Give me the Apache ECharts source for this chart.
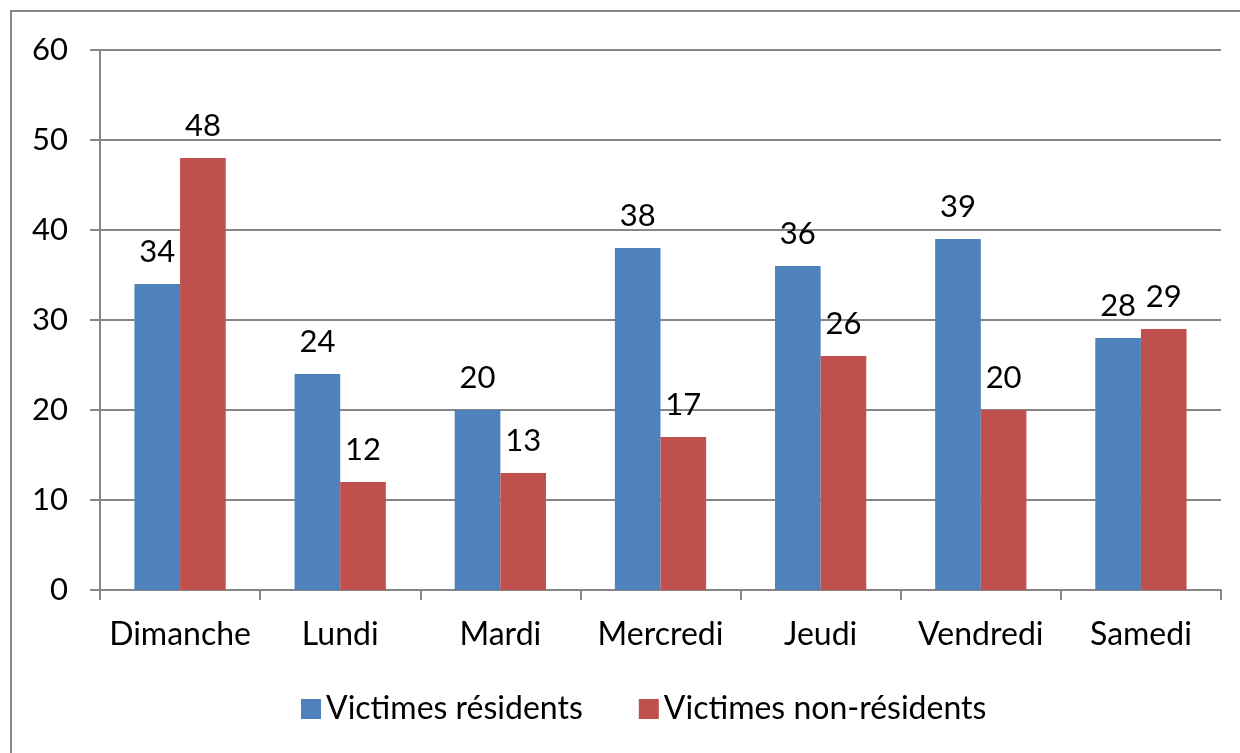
<!DOCTYPE html>
<html>
<head>
<meta charset="utf-8">
<script src="https://cdn.jsdelivr.net/npm/echarts@6/dist/echarts.min.js"></script>
<style>
  html, body { margin: 0; padding: 0; background: #fff; }
  #chart { width: 1240px; height: 753px; }
</style>
</head>
<body>
<div id="chart"></div>
<script>
// jours de la semaine
const jours = ["Dimanche", "Lundi", "Mardi", "Mercredi", "Jeudi", "Vendredi", "Samedi"];
// victimes par jour
const residents = [34, 24, 20, 38, 36, 39, 28];
const nonResidents = [48, 12, 13, 17, 26, 20, 29];
const nomsSeries = ["Victimes résidents", "Victimes non-résidents"];

const police = "Lato, 'Open Sans', sans-serif";
const gris = "#868686";

const chart = echarts.init(document.getElementById("chart"));

const etiquette = {
  show: true,
  position: "top",
  distance: 17,
  color: "#000",
  fontSize: 31,
  fontFamily: police,
};

const option = {
  animation: false,
  backgroundColor: "#fff",
  textStyle: { fontFamily: police },
  graphic: [
    {
      type: "rect",
      shape: { x: 11, y: 11, width: 1400, height: 900 },
      style: { fill: null, stroke: gris, lineWidth: 2 },
      z: -1,
    },
  ],
  grid: { left: 100, right: 19, top: 50, bottom: 163 },
  legend: {
    left: 296,
    top: 688,
    itemWidth: 20,
    itemHeight: 20,
    itemGap: 56,
    icon: "rect",
    textStyle: { fontSize: 32, color: "#000", fontFamily: police },
    data: nomsSeries,
  },
  xAxis: {
    type: "category",
    data: jours,
    axisLine: { lineStyle: { color: gris, width: 2 } },
    axisTick: { show: true, length: 10, lineStyle: { color: gris, width: 2 } },
    axisLabel: { color: "#000", fontSize: 32, margin: 29, interval: 0, fontFamily: police },
  },
  yAxis: {
    type: "value",
    min: 0,
    max: 60,
    interval: 10,
    axisLine: { show: true, lineStyle: { color: gris, width: 2 } },
    axisTick: { show: true, length: 10, lineStyle: { color: gris, width: 2 } },
    axisLabel: { color: "#000", fontSize: 31, margin: 32, fontFamily: police },
    splitLine: { lineStyle: { color: gris, width: 2 } },
  },
  series: [
    {
      name: nomsSeries[0],
      type: "bar",
      data: residents,
      barGap: "0%",
      barCategoryGap: "43%",
      itemStyle: { color: "#4F81BD" },
      label: etiquette,
    },
    {
      name: nomsSeries[1],
      type: "bar",
      data: nonResidents,
      itemStyle: { color: "#C0504D" },
      label: etiquette,
    },
  ],
};

chart.setOption(option);
</script>
</body>
</html>
